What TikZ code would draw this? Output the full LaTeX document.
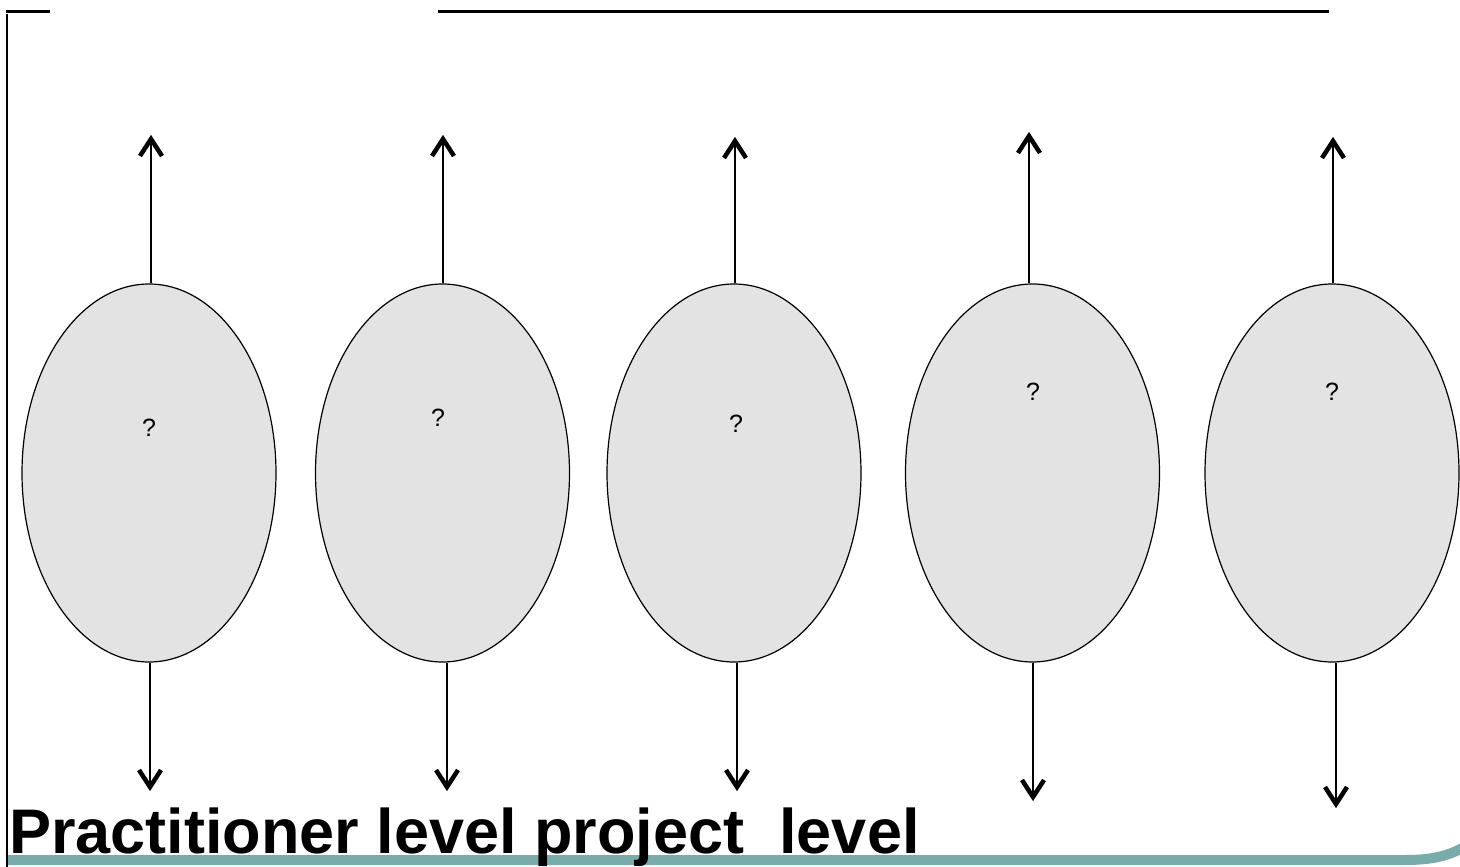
\documentclass[tikz,border=0pt]{standalone}
\usepackage{fontspec}
\setmainfont{Liberation Sans}
\usetikzlibrary{shapes.geometric}
\definecolor{bandteal}{HTML}{79ABAA}
\definecolor{ellfill}{HTML}{E3E3E3}
\tikzset{
  ell/.style={draw=black, line width=1.2pt, fill=ellfill, ellipse, minimum width=254pt, minimum height=378pt, inner sep=0pt},
  conn/.style={line width=2.2pt},
  barb/.style={line width=4.5pt, line join=miter, miter limit=10},
  qmark/.style={font=\fontsize{25pt}{28pt}\selectfont, inner sep=0pt},
  rule/.style={line width=2.2pt, black}
}
\newcommand\myupbarb[1]{\draw[barb] ([xshift=-11pt,yshift=-17pt]#1) -- (#1) -- ([xshift=11pt,yshift=-17pt]#1);}
\newcommand\mydownbarb[1]{\draw[barb] ([xshift=-11pt,yshift=17pt]#1) -- (#1) -- ([xshift=11pt,yshift=17pt]#1);}
\begin{document}
\begin{tikzpicture}[x=1pt,y=-1pt]
\useasboundingbox (0,0) rectangle (1460,867);
% frame lines
\draw[rule] (6,11.5) -- (50,11.5);
\draw[rule] (7,14) -- (7,867);
\draw[rule] (438,11.5) -- (1329,11.5);
% bottom band
\draw[bandteal, line width=10pt] (8,860) -- (1405,860) .. controls (1435,860) and (1450,855) .. (1466,846);
% ellipses
\node[ell] (e1) at (149,473) {};
\node[ell] (e2) at (442.5,473) {};
\node[ell] (e3) at (734,473) {};
\node[ell] (e4) at (1032.5,473) {};
\node[ell] (e5) at (1332,473) {};
% question marks
\node[qmark] (q1) at (149,428) {?};
\node[qmark] (q2) at (438,418) {?};
\node[qmark] (q3) at (736,424) {?};
\node[qmark] (q4) at (1033,392) {?};
\node[qmark] (q5) at (1332,392) {?};
% arrow endpoints
\coordinate (u1) at (151,139);
\coordinate (u2) at (443,139);
\coordinate (u3) at (735,141);
\coordinate (u4) at (1029,136);
\coordinate (u5) at (1333,141);
\coordinate (d1) at (150,787);
\coordinate (d2) at (447,787);
\coordinate (d3) at (737,787);
\coordinate (d4) at (1033,797);
\coordinate (d5) at (1336,804);
\draw[conn] (e1.north -| u1) -- (u1);
\draw[conn] (e2.north -| u2) -- (u2);
\draw[conn] (e3.north -| u3) -- (u3);
\draw[conn] (e4.north -| u4) -- (u4);
\draw[conn] (e5.north -| u5) -- (u5);
\draw[conn] (e1.south -| d1) -- (d1);
\draw[conn] (e2.south -| d2) -- (d2);
\draw[conn] (e3.south -| d3) -- (d3);
\draw[conn] (e4.south -| d4) -- (d4);
\draw[conn] (e5.south -| d5) -- (d5);
\myupbarb{u1}\myupbarb{u2}\myupbarb{u3}\myupbarb{u4}\myupbarb{u5}
\mydownbarb{d1}\mydownbarb{d2}\mydownbarb{d3}\mydownbarb{d4}\mydownbarb{d5}
% title
\node[anchor=base west, inner sep=0pt, font=\fontsize{63pt}{66pt}\selectfont\bfseries] (title) at (9,853) {Practitioner level project\ \ level};
\end{tikzpicture}
\end{document}
